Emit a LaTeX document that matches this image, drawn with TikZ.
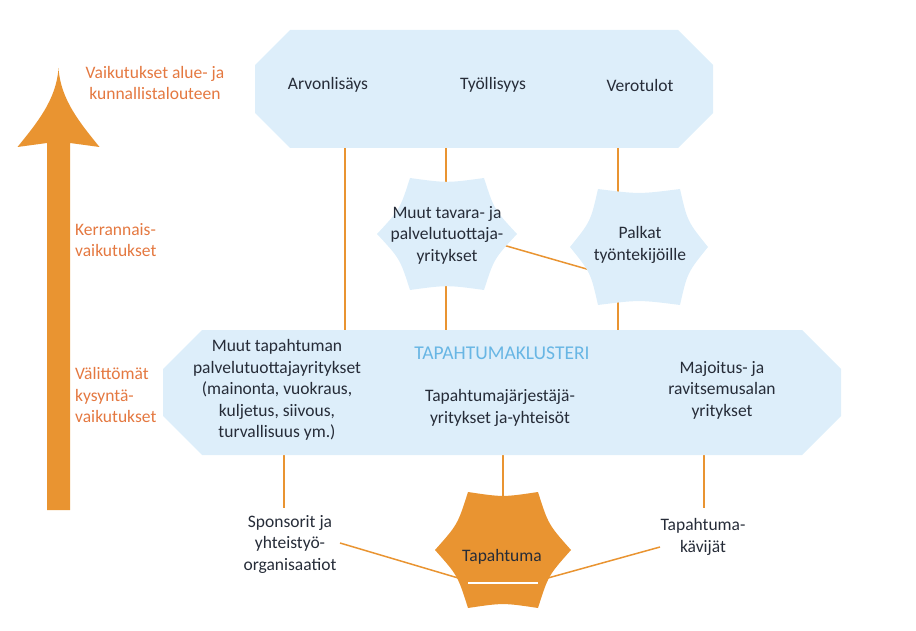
\documentclass[tikz,border=0pt]{standalone}
\usepackage{fontspec}
\setmainfont{Carlito}
\usetikzlibrary{calc}
\pgfdeclarelayer{bg}
\pgfsetlayers{bg,main}
\definecolor{boxfill}{RGB}{221,238,250}
\definecolor{orng}{RGB}{233,148,49}
\definecolor{lbl}{RGB}{228,120,64}
\definecolor{ink}{RGB}{38,44,56}
\definecolor{clus}{RGB}{104,182,228}
\tikzset{
  txt/.style={font=\fontsize{17.5}{21.5}\selectfont, text=ink, align=center, inner sep=0pt},
  lab/.style={font=\fontsize{17.5}{21.5}\selectfont, text=lbl, inner sep=0pt},
  conn/.style={draw=orng, line width=1.5pt},
  octobox/.style={inner sep=0pt, outer sep=0pt},
}
% concave hexagon: cx, cy, hx, tx, hy, colour
\newcommand\hexstar[6]{%
  \fill[#6] ({#1+#3},#2)
    .. controls ({#1+0.44*(#3+#4)},{#2-0.44*#5}) .. ({#1+#4},{#2-#5})
    .. controls (#1,{#2-0.91*#5}) .. ({#1-#4},{#2-#5})
    .. controls ({#1-0.44*(#3+#4)},{#2-0.44*#5}) .. ({#1-#3},#2)
    .. controls ({#1-0.44*(#3+#4)},{#2+0.44*#5}) .. ({#1-#4},{#2+#5})
    .. controls (#1,{#2+0.91*#5}) .. ({#1+#4},{#2+#5})
    .. controls ({#1+0.44*(#3+#4)},{#2+0.44*#5}) .. ({#1+#3},#2) -- cycle;}
% octagon node: name, cx, cy, half width, half height, chamfer
\newcommand\octo[6]{%
  \node[octobox, minimum width={(2*#4)*1pt}, minimum height={(2*#5)*1pt}] (#1) at (#2,#3) {};
  \fill[boxfill] ({#2-#4+#6},{#3-#5}) -- ({#2+#4-#6},{#3-#5}) -- ({#2+#4},{#3-#5+#6})
    -- ({#2+#4},{#3+#5-#6}) -- ({#2+#4-#6},{#3+#5}) -- ({#2-#4+#6},{#3+#5})
    -- ({#2-#4},{#3+#5-#6}) -- ({#2-#4},{#3-#5+#6}) -- cycle;}
\begin{document}
\begin{tikzpicture}[x=1pt,y=-1pt]
\useasboundingbox (0,0) rectangle (916,631);

% big arrow
\fill[orng] (58.5,68) .. controls (56.5,100) and (36,124) .. (17.5,147) -- (47,143) -- (47,510)
  -- (70,510) -- (70,143) -- (99.5,147) .. controls (81,124) and (60.5,100) .. (58.5,68) -- cycle;

% shapes
\octo{top}{484}{89}{229}{59}{35}
\octo{big}{502}{392.5}{339}{62.5}{39}
\hexstar{447}{234}{70}{37}{56}{boxfill}
\hexstar{639}{247}{69}{41}{58}{boxfill}
\hexstar{503}{550}{68}{35}{58}{orng}
\draw[white, line width=2pt] (468,583) -- (538,583);

% texts
\node[txt] (arv) at (328,85) {Arvonlisäys};
\node[txt] (tyo) at (493,85) {Työllisyys};
\node[txt] (vero) at (640,85) {Verotulot};
\node[txt] (s1) at (447,235) {Muut tavara- ja\\palvelutuottaja-\\yritykset};
\node[txt] (s2) at (640,245) {Palkat\\työntekijöille};
\node[txt] (muut) at (277,390) {Muut tapahtuman\\palvelutuottajayritykset\\(mainonta, vuokraus,\\kuljetus, siivous,\\turvallisuus ym.)};
\node[txt, text=clus, font=\fontsize{19.5}{22}\selectfont] (klus) at (502,353) {TAPAHTUMAKLUSTERI};
\node[txt] (jarj) at (500,408) {Tapahtumajärjestäjä-\\yritykset ja-yhteisöt};
\node[txt] (majo) at (722,390) {Majoitus- ja\\ravitsemusalan\\yritykset};
\node[txt] (spon) at (290,544) {Sponsorit ja\\yhteistyö-\\organisaatiot};
\node[txt] (kav) at (703,537) {Tapahtuma-\\kävijät};
\node[txt] (ev) at (502,557) {Tapahtuma};
\node[lab, align=center] (l1) at (155,83) {Vaikutukset alue- ja\\kunnallistalouteen};
\node[lab, align=left, anchor=west] (l2) at (75,240) {Kerrannais-\\vaikutukset};
\node[lab, align=left, anchor=west] (l3) at (75,395) {Välittömät\\kysyntä-\\vaikutukset};

% connector ends
\coordinate (xa) at (345,0);
\coordinate (xb) at (446,0);
\coordinate (xc) at (618,0);
\coordinate (xd) at (284,0);
\coordinate (xe) at (503,0);
\coordinate (xf) at (704,0);
\coordinate (s1r) at (470,235.5);
\coordinate (s2l) at (620,278.6);
\coordinate (sponE) at (340,543);
\coordinate (evL) at (470,581.5);
\coordinate (evR) at (540,580.2);
\coordinate (kavW) at (660,547);
\coordinate (sponN) at (284,508);
\coordinate (evC) at (503,540);
\coordinate (kavN) at (704,508);

\begin{pgfonlayer}{bg}
\draw[conn] (top.south -| xa) -- (big.north -| xa);
\draw[conn] (top.south -| xb) -- (big.north -| xb);
\draw[conn] (top.south -| xc) -- (big.north -| xc);
\draw[conn] (s1r) -- (s2l);
\draw[conn] (big.south -| xd) -- (sponN);
\draw[conn] (big.south -| xe) -- (evC);
\draw[conn] (big.south -| xf) -- (kavN);
\draw[conn] (sponE) -- (evL);
\draw[conn] (evR) -- (kavW);
\end{pgfonlayer}
\end{tikzpicture}
\end{document}
